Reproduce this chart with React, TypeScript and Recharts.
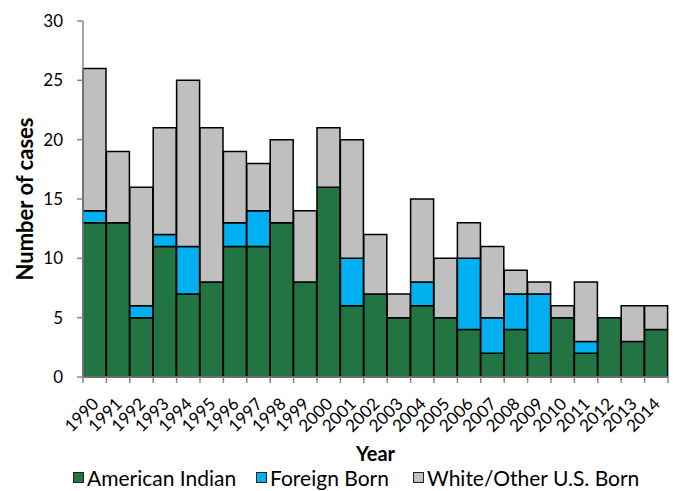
import { useEffect } from "react"
import { BarChart, Bar, XAxis, YAxis, Legend } from "recharts"

const years = [
  "1990", "1991", "1992", "1993", "1994", "1995", "1996", "1997", "1998", "1999",
  "2000", "2001", "2002", "2003", "2004", "2005", "2006", "2007", "2008", "2009",
  "2010", "2011", "2012", "2013", "2014",
]
const americanIndian = [13, 13, 5, 11, 7, 8, 11, 11, 13, 8, 16, 6, 7, 5, 6, 5, 4, 2, 4, 2, 5, 2, 5, 3, 4]
const foreignBorn = [1, 0, 1, 1, 4, 0, 2, 3, 0, 0, 0, 4, 0, 0, 2, 0, 6, 3, 3, 5, 0, 1, 0, 0, 0]
const whiteOther = [12, 6, 10, 9, 14, 13, 6, 4, 7, 6, 5, 10, 5, 2, 7, 5, 3, 6, 2, 1, 1, 5, 0, 3, 2]
const yTicks = [0, 5, 10, 15, 20, 25, 30]

const series = [
  { key: "ai", name: "American Indian", color: "#237443", left: 73 },
  { key: "fb", name: "Foreign Born", color: "#00b0f0", left: 256 },
  { key: "wo", name: "White/Other U.S. Born", color: "#bfbfbf", left: 413 },
]

const data = years.map((year, i) => ({
  year,
  ai: americanIndian[i],
  fb: foreignBorn[i],
  wo: whiteOther[i],
}))

const W = 673
const H = 491
const LEFT = 83
const RIGHT = 5
const band = (W - LEFT - RIGHT) / years.length
const font = "'Gill Sans', Lato, 'Open Sans', sans-serif"

const YearTick = (props: any) => {
  const { x, y, payload, index } = props
  const tx = x + 5
  const ty = y + 20
  return (
    <g>
      <line x1={x - band / 2} y1={y - 8} x2={x - band / 2} y2={y - 2} stroke="#888" strokeWidth={1.5} />
      {index === years.length - 1 && (
        <line x1={x + band / 2} y1={y - 8} x2={x + band / 2} y2={y - 2} stroke="#888" strokeWidth={1.5} />
      )}
      <text
        x={tx}
        y={ty}
        transform={`rotate(-45 ${tx} ${ty})`}
        textAnchor="end"
        fontSize={17}
        fill="#000"
        fontFamily={font}
      >
        {payload.value}
      </text>
    </g>
  )
}

const LegendContent = () => (
  <div style={{ position: "relative", width: W, height: 28, fontFamily: font, fontSize: 21 }}>
    {series.map((s) => (
      <div
        key={s.key}
        style={{ position: "absolute", left: s.left, top: 2, display: "flex", alignItems: "center", whiteSpace: "nowrap" }}
      >
        <span
          style={{
            display: "inline-block",
            width: 9,
            height: 9,
            background: s.color,
            border: "1.5px solid #222",
            marginRight: 3,
          }}
        />
        <span>{s.name}</span>
      </div>
    ))}
  </div>
)

export default function App() {
  useEffect(() => {
    document.body.style.margin = "0"
  }, [])

  return (
    <div style={{ width: W, height: H, background: "#fff" }}>
      <BarChart
        width={W}
        height={H}
        data={data}
        margin={{ top: 21, right: RIGHT, left: 0, bottom: 0 }}
        barCategoryGap={0}
      >
        <XAxis
          dataKey="year"
          interval={0}
          height={86}
          stroke="#888"
          strokeWidth={1.5}
          tickLine={false}
          tick={<YearTick />}
          label={{ value: "Year", position: "insideBottom", offset: 2, fontSize: 20, fontWeight: "bold", fill: "#000", fontFamily: font }}
        />
        <YAxis
          width={LEFT}
          domain={[0, 30]}
          ticks={yTicks}
          stroke="#888"
          strokeWidth={1.5}
          tickSize={6}
          tickMargin={14}
          tick={{ fontSize: 17, fill: "#000", fontFamily: font }}
          label={{ value: "Number of cases", angle: -90, position: "insideLeft", offset: 25, fontSize: 22, fontWeight: "bold", fill: "#000", fontFamily: font, style: { textAnchor: "middle" } }}
        />
        <Legend verticalAlign="bottom" height={28} content={<LegendContent />} />
        {series.map((s) => (
          <Bar
            key={s.key}
            dataKey={s.key}
            name={s.name}
            stackId="a"
            fill={s.color}
            stroke="#000"
            strokeWidth={1.5}
            isAnimationActive={false}
          />
        ))}
      </BarChart>
    </div>
  )
}
